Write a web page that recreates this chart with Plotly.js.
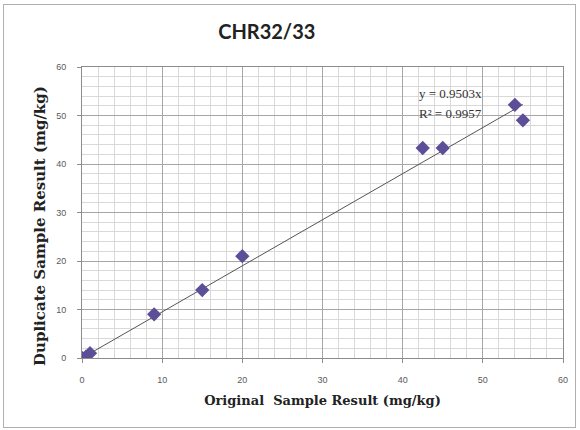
<!DOCTYPE html>
<html><head><meta charset="utf-8">
<script src="https://cdn.plot.ly/plotly-3.0.1.min.js"></script>
<style>
body{margin:0;background:#fff;}
#frame{position:absolute;left:3px;top:4px;width:571px;height:422px;border:1px solid #b0b0b0;}
#chart{position:absolute;left:0;top:0;width:580px;height:430px;}
</style></head>
<body>
<div id="frame"></div>
<div id="chart"></div>
<script>
var original = [0, 0.5, 1, 9, 15, 20, 42.5, 45, 54, 55];
var duplicate = [0, 0.3, 1, 9, 14, 21, 43.3, 43.3, 52.2, 49];
var slope = 0.9503;
var r2 = 0.9957;
var trendX = [0, 55];
var trendY = trendX.map(function(v){return slope*v;});
var xTicks = [0,10,20,30,40,50,60];
var yTicks = [0,10,20,30,40,50,60];

var traces = [
 {x: trendX, y: trendY, mode:'lines', line:{color:'#555555', width:1}, hoverinfo:'skip', showlegend:false},
 {x: original, y: duplicate, mode:'markers', marker:{symbol:'diamond', size:11, color:'#5d4e98'}, showlegend:false}
];
var axisCommon = {
  showline:true, mirror:true, linecolor:'#8c8c8c', linewidth:1,
  ticks:'outside', ticklen:4, tickcolor:'#8c8c8c', ticklabelstandoff:9,
  gridcolor:'#a6a6a6', gridwidth:1, zeroline:false,
  minor:{dtick:2, showgrid:true, gridcolor:'#d9d9d9', gridwidth:1},
  tickfont:{family:'Liberation Sans, Arial', size:9, color:'#595959'}
};
var titleFont = {family:'DejaVu Serif', size:13, color:'#222'};
var layout = {
  width:580, height:430,
  margin:{l:82, r:17, t:67, b:72},
  paper_bgcolor:'rgba(0,0,0,0)', plot_bgcolor:'#ffffff',
  title:{text:'<b>CHR32/33</b>', font:{family:'Lato, Open Sans', size:20, color:'#222'}, x:0.46, xanchor:'center', y:0.925, yanchor:'middle'},
  xaxis: Object.assign({}, axisCommon, {range:[0,60], tickvals:xTicks, ticktext:xTicks.map(String),
    title:{text:'<b>Original  Sample Result (mg/kg)</b>', font:titleFont, standoff:12}}),
  yaxis: Object.assign({}, axisCommon, {range:[0,60], tickvals:yTicks, ticktext:yTicks.map(String)}),
  annotations:[
    {xref:'paper', yref:'paper', x:-0.0873, y:0.4536, xanchor:'center', yanchor:'middle', textangle:-90, showarrow:false,
     text:'<b>Duplicate Sample Result (mg/kg)</b>', font:{family:'DejaVu Serif', size:15, color:'#222'}},
    {xref:'x', yref:'y', x:41.8, y:54.5, xanchor:'left', yanchor:'middle', showarrow:false,
     text:'y = '+slope.toFixed(4)+'x', font:{family:'Liberation Serif, Times New Roman', size:13, color:'#333'}},
    {xref:'x', yref:'y', x:41.8, y:50.4, xanchor:'left', yanchor:'middle', showarrow:false,
     text:'R² = '+r2.toFixed(4), font:{family:'Liberation Serif, Times New Roman', size:13, color:'#333'}}
  ]
};
Plotly.newPlot('chart', traces, layout, {displayModeBar:false, staticPlot:true});
</script>
</body></html>
